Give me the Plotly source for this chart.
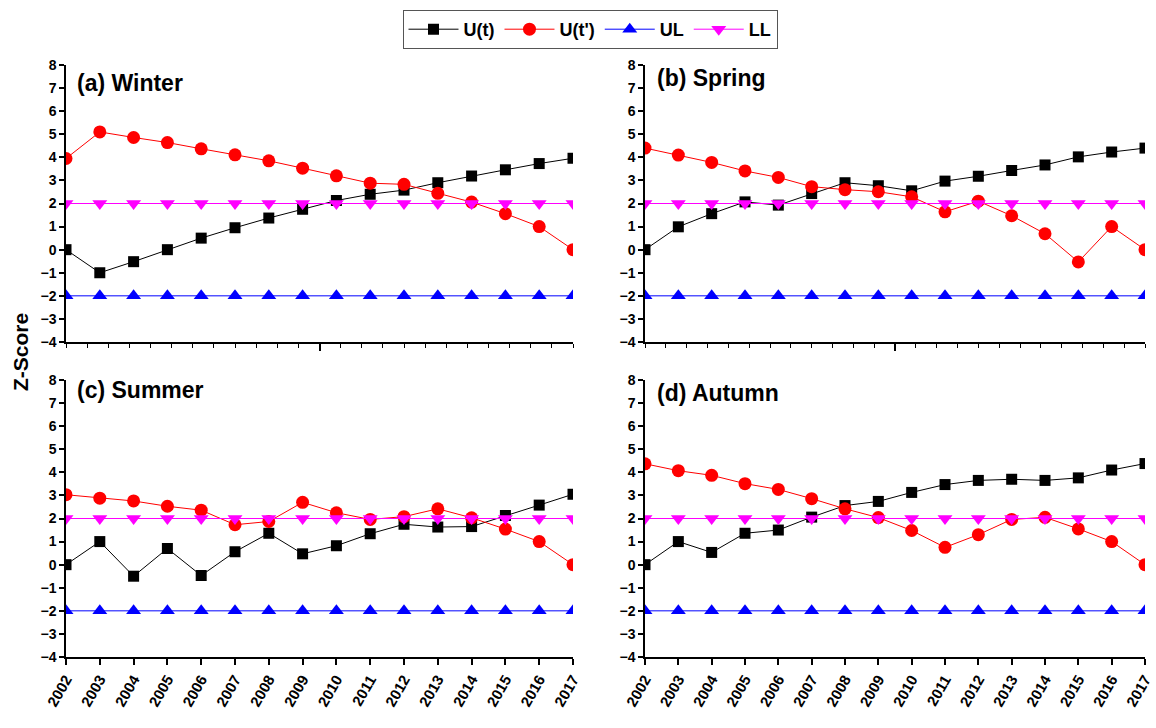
import plotly.graph_objects as go

years = list(range(2002, 2018))

winter_ut = [0, -1.0, -0.52, 0.0, 0.5, 0.95, 1.37, 1.75, 2.13, 2.4, 2.58, 2.9, 3.19, 3.46, 3.73, 3.96]
winter_utp = [3.95, 5.1, 4.86, 4.64, 4.37, 4.11, 3.85, 3.53, 3.2, 2.88, 2.83, 2.44, 2.06, 1.56, 1.0, 0.0]
spring_ut = [0, 0.99, 1.56, 2.07, 1.93, 2.43, 2.9, 2.77, 2.55, 2.97, 3.18, 3.43, 3.67, 4.02, 4.23, 4.4]
spring_utp = [4.4, 4.1, 3.78, 3.41, 3.13, 2.73, 2.6, 2.51, 2.29, 1.64, 2.1, 1.47, 0.69, -0.53, 1.0, 0.0]
summer_ut = [0, 1.0, -0.5, 0.7, -0.47, 0.56, 1.36, 0.47, 0.82, 1.34, 1.75, 1.63, 1.65, 2.13, 2.58, 3.05]
summer_utp = [3.03, 2.88, 2.76, 2.53, 2.36, 1.73, 1.87, 2.7, 2.25, 1.96, 2.08, 2.42, 2.03, 1.54, 1.0, 0.0]
autumn_ut = [0, 1.0, 0.53, 1.36, 1.5, 2.06, 2.56, 2.74, 3.13, 3.47, 3.65, 3.7, 3.65, 3.76, 4.1, 4.38]
autumn_utp = [4.37, 4.07, 3.87, 3.51, 3.26, 2.86, 2.42, 2.04, 1.48, 0.75, 1.3, 1.96, 2.05, 1.55, 1.0, 0.0]
ul = [-2] * 16
ll = [2] * 16

panels = [
    ("(a) Winter", winter_ut, winter_utp),
    ("(b) Spring", spring_ut, spring_utp),
    ("(c) Summer", summer_ut, summer_utp),
    ("(d) Autumn", autumn_ut, autumn_utp),
]

W, H = 1156, 728
def fx(p):
    return p / W
def fy(p):
    return 1 - p / H

xdoms = [[fx(66), fx(573)], [fx(645), fx(1145)], [fx(66), fx(573)], [fx(645), fx(1145)]]
ydoms = [[fy(342), fy(65)], [fy(342), fy(65)], [fy(657), fy(380)], [fy(657), fy(380)]]
title_pos = [(75, 83), (655, 78), (75, 390), (655, 393)]
FONT = "Liberation Sans, Arial"

fig = go.Figure()
for i, (name, ut, utp) in enumerate(panels):
    sfx = "" if i == 0 else str(i + 1)
    xa, ya = "x" + sfx, "y" + sfx
    show = i == 0
    fig.add_trace(go.Scatter(x=years, y=ut, name="U(t)", mode="lines+markers",
                             line=dict(color="black", width=1),
                             marker=dict(symbol="square", size=11, color="black"),
                             xaxis=xa, yaxis=ya, showlegend=show))
    fig.add_trace(go.Scatter(x=years, y=utp, name="U(t')", mode="lines+markers",
                             line=dict(color="#ff0000", width=1),
                             marker=dict(symbol="circle", size=13, color="#ff0000"),
                             xaxis=xa, yaxis=ya, showlegend=show))
    fig.add_trace(go.Scatter(x=years, y=ul, name="UL", mode="lines+markers",
                             line=dict(color="#0000ff", width=1),
                             marker=dict(symbol="triangle-up", size=13, color="#0000ff"),
                             xaxis=xa, yaxis=ya, showlegend=show))
    fig.add_trace(go.Scatter(x=years, y=ll, name="LL", mode="lines+markers",
                             line=dict(color="#ff00ff", width=1),
                             marker=dict(symbol="triangle-down", size=13, color="#ff00ff"),
                             xaxis=xa, yaxis=ya, showlegend=show))

    bottom = i >= 2
    xaxis = dict(domain=xdoms[i], anchor=ya, range=[2002, 2017], automargin=False,
                 showline=True, linecolor="black", linewidth=1.5,
                 showgrid=False, zeroline=False, ticks="outside",
                 tickcolor="black", tickwidth=1.5)
    if bottom:
        xaxis.update(tickmode="array", tickvals=years, ticktext=[str(y) for y in years],
                     ticklen=6, tickangle=-60, ticklabeloverflow="allow",
                     tickfont=dict(family=FONT, size=15, color="black", weight="bold"))
    else:
        xaxis.update(tickmode="array", tickvals=[2009.5], ticklen=7, showticklabels=False,
                     minor=dict(ticks="outside", tick0=2002, dtick=0.625, ticklen=4,
                                tickcolor="black", tickwidth=1.2))
    yaxis = dict(domain=ydoms[i], anchor=xa, range=[-4, 8], tickmode="linear", tick0=-4, dtick=1,
                 automargin=False,
                 showline=True, linecolor="black", linewidth=1.5,
                 showgrid=False, zeroline=False, ticks="outside", ticklen=5,
                 tickcolor="black", tickwidth=1.5,
                 tickfont=dict(family=FONT, size=14, color="black", weight="bold"))
    fig.update_layout(**{"xaxis" + sfx: xaxis, "yaxis" + sfx: yaxis})

    tx, ty = title_pos[i]
    fig.add_annotation(text="<b>" + name + "</b>", x=fx(tx), y=fy(ty), xref="paper", yref="paper",
                       xanchor="left", yanchor="middle", showarrow=False,
                       font=dict(family=FONT, size=23, color="black"))

fig.add_annotation(text="<b>Z-Score</b>", x=fx(20), y=fy(352), xref="paper", yref="paper",
                   xanchor="center", yanchor="middle", showarrow=False, textangle=-90,
                   font=dict(family=FONT, size=21, color="black"))

fig.update_layout(
    width=W, height=H, autosize=False,
    margin=dict(l=0, r=0, t=0, b=0, autoexpand=False),
    paper_bgcolor="white", plot_bgcolor="white",
    showlegend=True,
    legend=dict(orientation="h", x=fx(590), y=fy(10), xanchor="center", yanchor="top",
                bordercolor="#555555", borderwidth=1, bgcolor="white",
                font=dict(family=FONT, size=18, color="black", weight="bold"),
                itemwidth=50, tracegroupgap=0),
)

fig.write_html("out.html")
